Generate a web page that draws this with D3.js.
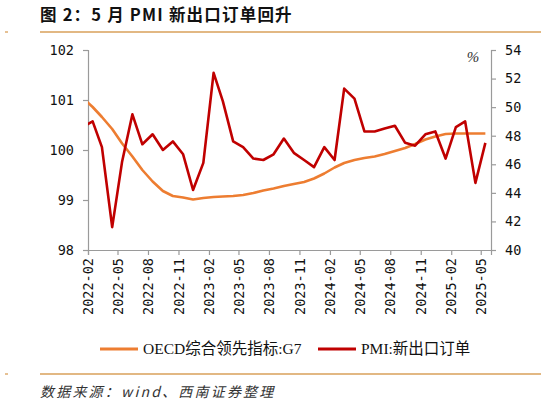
<!DOCTYPE html>
<html>
<head>
<meta charset="utf-8">
<script src="https://cdn.jsdelivr.net/npm/d3@7"></script>
<style>
body { margin: 0; background: #fff; }
svg { display: block; }
</style>
</head>
<body>
<div id="chart"></div>
<script>
// monthly data, Jan 2022 .. May 2025
var startMonth = "2022-01";
var oecdG7 = [101.05, 100.86, 100.66, 100.42, 100.13, 99.87, 99.60, 99.37, 99.18, 99.08, 99.05, 99.01,
              99.04, 99.06, 99.07, 99.08, 99.10, 99.14, 99.19, 99.23, 99.28, 99.32, 99.36, 99.43,
              99.53, 99.65, 99.74, 99.80, 99.84, 99.87, 99.92, 99.98, 100.04, 100.12, 100.21, 100.27,
              100.32, 100.33, 100.33, 100.33, 100.33];
var pmiExport = [48.6, 49.0, 47.2, 41.6, 46.2, 49.5, 47.4, 48.1, 47.0, 47.6, 46.7, 44.2,
                 46.1, 52.4, 50.4, 47.6, 47.2, 46.4, 46.3, 46.7, 47.8, 46.8, 46.3, 45.8,
                 47.2, 46.3, 51.3, 50.6, 48.3, 48.3, 48.5, 48.7, 47.5, 47.3, 48.1, 48.3,
                 46.4, 48.6, 49.0, 44.7, 47.5];
var leftTicks = [98, 99, 100, 101, 102];
var rightTicks = [40, 42, 44, 46, 48, 50, 52, 54];
var seriesNames = ["OECD综合领先指标:G7", "PMI:新出口订单"];

var W = 541, H = 406;
var plot = {left: 88, right: 491, top: 50, bottom: 250};
var orange = "#ED7D31", red = "#C00000", rule = "#D8A05A", axisGrey = "#9a9a9a";

// points sit mid-month, ticks at month start
var t0 = d3.timeParse("%Y-%m")(startMonth);
var dates = pmiExport.map(function(d, i){
    return new Date(t0.getFullYear(), t0.getMonth() + i, 15);
});

var x = d3.scaleTime()
    .domain([new Date(2022, 1, 1), new Date(2025, 5, 1)])
    .range([plot.left, plot.right]);
var yL = d3.scaleLinear().domain([98, 102]).range([plot.bottom, plot.top]);
var yR = d3.scaleLinear().domain([40, 54]).range([plot.bottom, plot.top]);

var svg = d3.select("#chart").append("svg")
    .attr("width", W).attr("height", H);

// title and rules
svg.append("text")
    .attr("x", 40).attr("y", 21)
    .attr("font-family", "'Noto Sans CJK SC', 'Liberation Sans', sans-serif")
    .attr("font-weight", "bold").attr("font-size", 16.5)
    .attr("letter-spacing", 1.2)
    .attr("fill", "#111")
    .text("图 2：5 月 PMI 新出口订单回升");

[32, 374].forEach(function(yy){
    svg.append("line").attr("x1", 40).attr("x2", W).attr("y1", yy).attr("y2", yy)
        .attr("stroke", rule).attr("stroke-width", 1.3);
    svg.append("line").attr("x1", 5).attr("x2", 8).attr("y1", yy).attr("y2", yy)
        .attr("stroke", rule).attr("stroke-width", 1.3);
});

var monoFont = "'DejaVu Sans Mono', monospace";

// axes
var tickDates = d3.timeMonth.range(new Date(2022, 1, 1), new Date(2025, 5, 2), 3);
var xAxis = d3.axisBottom(x).tickValues(tickDates)
    .tickFormat(d3.timeFormat("%Y-%m")).tickSizeOuter(0).tickSize(5);
var gx = svg.append("g").attr("transform", "translate(0," + plot.bottom + ")").call(xAxis);
gx.selectAll("text")
    .attr("transform", "rotate(-90)")
    .attr("text-anchor", "end")
    .attr("x", -8).attr("y", 0).attr("dy", "0.35em");

var gl = svg.append("g").attr("transform", "translate(" + plot.left + ",0)")
    .call(d3.axisLeft(yL).tickValues(leftTicks).tickFormat(d3.format("d"))
        .tickSizeOuter(0).tickSize(5).tickPadding(9));
var gr = svg.append("g").attr("transform", "translate(" + plot.right + ",0)")
    .call(d3.axisRight(yR).tickValues(rightTicks).tickFormat(d3.format("d"))
        .tickSizeOuter(0).tickSize(5).tickPadding(9));

[gx, gl, gr].forEach(function(g){
    g.select(".domain").attr("stroke", axisGrey).attr("stroke-width", 1.2);
    g.selectAll(".tick line").attr("stroke", axisGrey).attr("stroke-width", 1.2);
    g.selectAll("text").attr("font-family", monoFont).attr("font-size", 13.5).attr("fill", "#111");
});

svg.append("text")
    .attr("x", 473).attr("y", 62)
    .attr("text-anchor", "middle")
    .attr("font-family", "'Liberation Serif', serif").attr("font-style", "italic")
    .attr("font-size", 15).attr("fill", "#333")
    .text("%");

// lines
svg.append("clipPath").attr("id", "plotclip").append("rect")
    .attr("x", plot.left).attr("y", 0)
    .attr("width", plot.right - plot.left).attr("height", plot.bottom + 10);

var lineL = d3.line().x(function(d, i){ return x(dates[i]); }).y(function(d){ return yL(d); });
var lineR = d3.line().x(function(d, i){ return x(dates[i]); }).y(function(d){ return yR(d); });

var lines = svg.append("g").attr("clip-path", "url(#plotclip)");
lines.append("path").datum(oecdG7).attr("d", lineL)
    .attr("fill", "none").attr("stroke", orange).attr("stroke-width", 2.6)
    .attr("stroke-linejoin", "round");
lines.append("path").datum(pmiExport).attr("d", lineR)
    .attr("fill", "none").attr("stroke", red).attr("stroke-width", 2.6)
    .attr("stroke-linejoin", "round");

// legend
var legend = [{name: seriesNames[0], color: orange, x: 100},
              {name: seriesNames[1], color: red, x: 318}];
legend.forEach(function(l){
    svg.append("line").attr("x1", l.x).attr("x2", l.x + 38)
        .attr("y1", 349).attr("y2", 349)
        .attr("stroke", l.color).attr("stroke-width", 3);
    svg.append("text").attr("x", l.x + 43).attr("y", 354)
        .attr("font-family", "'Liberation Serif', 'Noto Sans CJK SC', serif")
        .attr("font-size", 15.5).attr("fill", "#111")
        .text(l.name);
});

// source
svg.append("text")
    .attr("x", 40).attr("y", 397)
    .attr("font-family", "'Noto Sans CJK SC', sans-serif")
    .attr("font-style", "italic").attr("font-size", 14).attr("letter-spacing", 2.2)
    .attr("fill", "#333")
    .text("数据来源：wind、西南证券整理");
</script>
</body>
</html>
